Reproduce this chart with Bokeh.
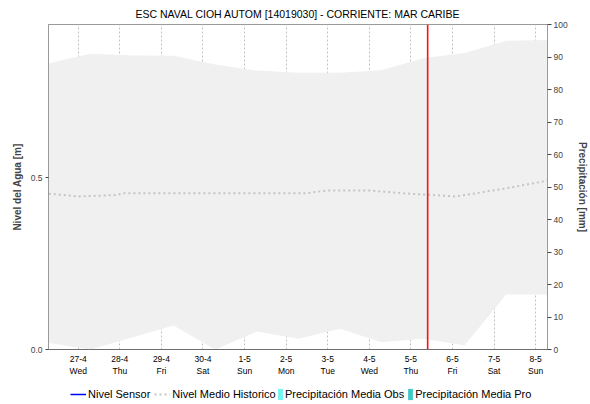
import pandas as pd
from bokeh.plotting import figure
from bokeh.layouts import column
from bokeh.models import (Range1d, LinearAxis, FixedTicker, NumeralTickFormatter,
                          Span, Legend, LegendItem)
from bokeh.embed import file_html
from bokeh.resources import INLINE

# ---------------- data ----------------
title_text = "ESC NAVAL CIOH AUTOM [14019030] - CORRIENTE: MAR CARIBE"
base_day = "2022-04-27 00:00"
range_start = "2022-04-26 06:50"
range_end = "2022-05-08 06:50"
current_time = "2022-05-05 09:40"

tick_days = ["2022-04-27", "2022-04-28", "2022-04-29", "2022-04-30", "2022-05-01", "2022-05-02",
             "2022-05-03", "2022-05-04", "2022-05-05", "2022-05-06", "2022-05-07", "2022-05-08"]
tick_labels = ["27-4\nWed", "28-4\nThu", "29-4\nFri", "30-4\nSat", "1-5\nSun", "2-5\nMon",
               "3-5\nTue", "4-5\nWed", "5-5\nThu", "6-5\nFri", "7-5\nSat", "8-5\nSun"]

band_times = ["2022-04-26 07:00", "2022-04-27 07:00", "2022-04-28 07:00", "2022-04-29 07:00",
              "2022-04-30 07:00", "2022-05-01 07:00", "2022-05-02 07:00", "2022-05-03 07:00",
              "2022-05-04 07:00", "2022-05-05 07:00", "2022-05-06 07:00", "2022-05-07 07:00",
              "2022-05-08 07:00"]
band_upper = [0.832, 0.860, 0.855, 0.854, 0.829, 0.811, 0.805, 0.805, 0.812, 0.847, 0.862, 0.898, 0.900]
band_lower = [0.019, 0.000, 0.035, 0.070, 0.000, 0.052, 0.031, 0.060, 0.021, 0.031, 0.012, 0.160, 0.160]

mean_times = ["2022-04-26 07:00", "2022-04-27 00:00", "2022-04-27 22:00", "2022-04-28 02:00",
              "2022-05-02 11:00", "2022-05-02 23:00", "2022-05-04 01:00", "2022-05-04 20:00",
              "2022-05-05 10:00", "2022-05-06 02:00", "2022-05-07 05:00", "2022-05-08 07:00"]
mean_level = [0.453, 0.445, 0.449, 0.454, 0.454, 0.462, 0.462, 0.454, 0.450, 0.445, 0.467, 0.491]

sensor_times = []
sensor_level = []
precip_obs_times = []
precip_obs = []
precip_pro_times = []
precip_pro = []

series_names = ["Nivel Sensor", "Nivel Medio Historico",
                "Precipitación Media Obs", "Precipitación Media Pro"]

level_max = 0.945
precip_max = 100
precip_ticks = [0, 10, 20, 30, 40, 50, 60, 70, 80, 90, 100]
level_ticks = [0.0, 0.5]

# ---------------- styles ----------------
FONT = "Liberation Sans"
C_SENSOR = "#0000ff"
C_MEAN = "#c4c4c4"
C_OBS = "#70f4f4"
C_PRO = "#40c8c8"
NAN = float("nan")

b0 = pd.Timestamp(base_day)
def days(ts):
    return [float((pd.Timestamp(t) - b0) / pd.Timedelta(days=1)) for t in ts]

p = figure(width=590, height=380, output_backend="svg", toolbar_location=None,
           x_range=Range1d(days([range_start])[0], days([range_end])[0]),
           y_range=Range1d(0, level_max),
           min_border_left=48, min_border_right=38, min_border_top=24, min_border_bottom=31,
           background_fill_color="white", border_fill_color="white")
p.extra_y_ranges = {"precip": Range1d(0, precip_max)}

p.title.text = title_text
p.title.align = "center"
p.title.text_font = FONT
p.title.text_font_size = "10.5px"
p.title.text_font_style = "normal"
p.title.text_color = "#000000"
p.title.standoff = 10

p.outline_line_color = "#9a9a9a"
p.outline_line_width = 1

# band
p.varea(x=days(band_times), y1=band_lower, y2=band_upper, fill_color="#f0f0f0")

# series
p.line(x=days(sensor_times), y=sensor_level, line_color=C_SENSOR, line_width=1.5)
p.line(x=days(mean_times), y=mean_level, line_color=C_MEAN, line_width=2, line_dash="2 3")
p.vbar(x=days(precip_obs_times), top=precip_obs, width=0.04, fill_color=C_OBS,
       line_color=None, y_range_name="precip")
p.vbar(x=days(precip_pro_times), top=precip_pro, width=0.04, fill_color=C_PRO,
       line_color=None, y_range_name="precip")

p.add_layout(Span(location=days([current_time])[0], dimension="height",
                  line_color="#ff1010", line_width=1.6))

# x axis
xt = days(tick_days)
p.xaxis.ticker = FixedTicker(ticks=xt)
p.xaxis.major_label_overrides = {t: l for t, l in zip(xt, tick_labels)}
p.xaxis.major_tick_out = 0
p.xaxis.major_tick_in = 0
p.xaxis.minor_tick_out = 0
p.xaxis.minor_tick_in = 0
p.xaxis.major_label_standoff = 4
p.xaxis.major_label_text_font = FONT
p.xaxis.major_label_text_font_size = "8.5px"
p.xaxis.major_label_text_color = "#000000"
p.xaxis.axis_line_color = "#444444"
p.xaxis.axis_line_dash = "1 1"

# left axis
p.yaxis.ticker = FixedTicker(ticks=level_ticks)
p.yaxis.formatter = NumeralTickFormatter(format="0.0")
p.yaxis.axis_label = "Nivel del Agua [m]"
p.yaxis.axis_label_text_font = FONT
p.yaxis.axis_label_text_font_size = "10px"
p.yaxis.axis_label_text_font_style = "bold"
p.yaxis.axis_label_standoff = 5
p.yaxis.major_label_text_font = FONT
p.yaxis.major_label_text_font_size = "8.5px"
p.yaxis.major_label_standoff = 3
p.yaxis.major_tick_out = 3
p.yaxis.major_tick_in = 0
p.yaxis.minor_tick_out = 0
p.yaxis.minor_tick_in = 0
p.yaxis.axis_line_color = "#9a9a9a"
p.yaxis.major_tick_line_color = "#444444"

# right axis
ra = LinearAxis(y_range_name="precip", ticker=FixedTicker(ticks=precip_ticks),
                axis_label="Precipitación [mm]")
ra.axis_label_text_font = FONT
ra.axis_label_text_font_size = "10px"
ra.axis_label_text_font_style = "bold"
ra.axis_label_standoff = 6
ra.major_label_text_font = FONT
ra.major_label_text_font_size = "8.5px"
ra.major_label_standoff = 2
ra.major_tick_out = 4
ra.major_tick_in = 0
ra.minor_tick_out = 0
ra.minor_tick_in = 0
ra.axis_line_color = "#9a9a9a"
ra.major_tick_line_color = "#444444"
p.add_layout(ra, "right")

# grids
p.xgrid.ticker = FixedTicker(ticks=xt)
p.xgrid.grid_line_color = "#c0c0c0"
p.xgrid.grid_line_dash = "2 2"
p.ygrid.ticker = FixedTicker(ticks=level_ticks)
p.ygrid.grid_line_color = "#c8c8c8"
p.ygrid.grid_line_dash = "2 2"

# ---------------- legend strip (swatches only, no plotted marks) ----------------
lf = figure(width=590, height=24, output_backend="svg", toolbar_location=None,
            x_range=Range1d(0, 1), y_range=Range1d(0, 1),
            x_axis_location=None, y_axis_location=None, min_border=0,
            outline_line_color=None, background_fill_color="white", border_fill_color="white")
lf.grid.visible = False
g_sensor = lf.line(x=[NAN], y=[NAN], line_color=C_SENSOR, line_width=1.5)
g_mean = lf.line(x=[NAN], y=[NAN], line_color=C_MEAN, line_width=2, line_dash="2 3")
g_obs = lf.vbar(x=[NAN], top=[NAN], width=0.04, fill_color=C_OBS, line_color=None)
g_pro = lf.vbar(x=[NAN], top=[NAN], width=0.04, fill_color=C_PRO, line_color=None)

def style_legend(lg, gw, sp):
    lg.label_text_font = FONT
    lg.label_text_font_size = "11px"
    lg.label_text_color = "#000000"
    lg.glyph_width = gw
    lg.glyph_height = 14
    lg.label_height = 14
    lg.label_standoff = 2
    lg.spacing = sp
    lg.padding = 0
    lg.margin = 0
    lg.border_line_color = None
    lg.background_fill_alpha = 0

# strip frame is aligned with the main frame (left edge at 48 px)
leg_lines = Legend(items=[
    LegendItem(label=series_names[0], renderers=[g_sensor]),
    LegendItem(label=series_names[1], renderers=[g_mean]),
], orientation="horizontal", location=(22, 3))
style_legend(leg_lines, 16, 4)
leg_bars = Legend(items=[
    LegendItem(label=series_names[2], renderers=[g_obs]),
    LegendItem(label=series_names[3], renderers=[g_pro]),
], orientation="horizontal", location=(229, 3))
style_legend(leg_bars, 6, 3)
lf.add_layout(leg_lines)
lf.add_layout(leg_bars)

layout = column(p, lf, spacing=0)
open("out.html", "w").write(file_html(layout, INLINE))
